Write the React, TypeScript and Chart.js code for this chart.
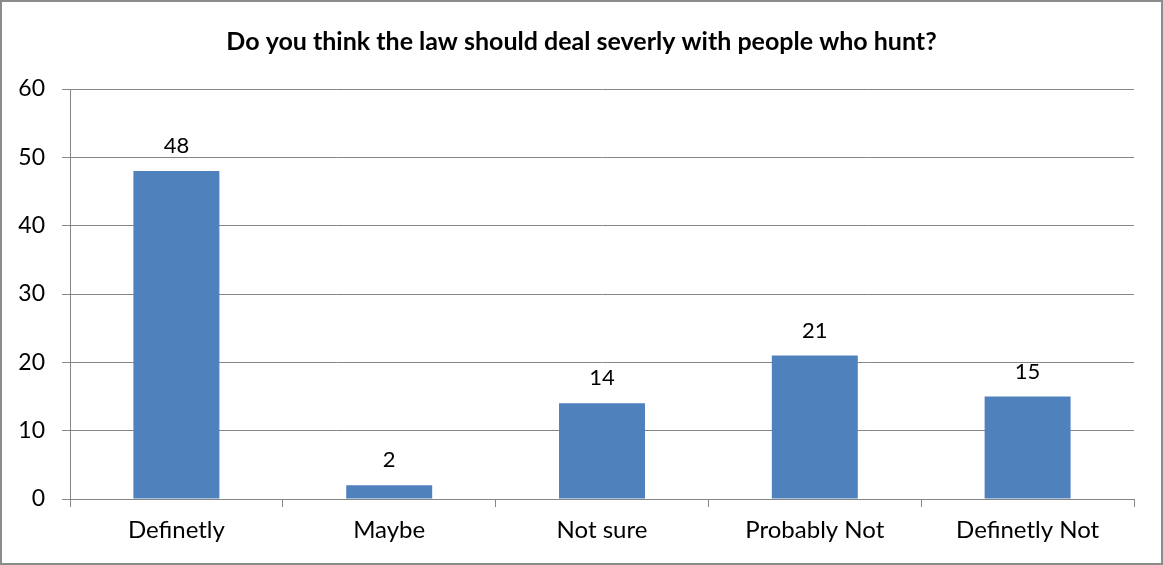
import React, { useEffect, useRef } from "react";
import { Chart, registerables } from "chart.js";

Chart.register(...registerables);

const categories = ["Definetly", "Maybe", "Not sure", "Probably Not", "Definetly Not"];
const values = [48, 2, 14, 21, 15];
const titleText = "Do you think the law should deal severly with people who hunt?";
const yTicks = { min: 0, max: 60, step: 10 };

const FONT = "Lato";
const GRID = "#868686";

const borderPlugin = {
  id: "outerBorder",
  afterDraw(chart: any) {
    const { ctx, width, height } = chart;
    ctx.save();
    ctx.strokeStyle = "#8c8c8c";
    ctx.lineWidth = 2;
    ctx.strokeRect(1, 1, width - 2, height - 2);
    ctx.fillStyle = "#000";
    ctx.font = `bold 25px ${FONT}`;
    ctx.textAlign = "center";
    ctx.textBaseline = "middle";
    ctx.fillText(titleText, width / 2, 42);
    ctx.restore();
  },
};

const labelPlugin = {
  id: "barLabels",
  afterDatasetsDraw(chart: any) {
    const { ctx } = chart;
    const meta = chart.getDatasetMeta(0);
    ctx.save();
    ctx.fillStyle = "#000";
    ctx.font = `22px ${FONT}`;
    ctx.textAlign = "center";
    ctx.textBaseline = "middle";
    meta.data.forEach((bar: any, i: number) => {
      ctx.fillText(String(values[i]), bar.x, bar.y - 25);
    });
    ctx.restore();
  },
};

export default function App() {
  const ref = useRef<HTMLCanvasElement | null>(null);
  useEffect(() => {
    document.body.style.margin = "0";
    const chart = new Chart(ref.current!, {
      type: "bar",
      data: {
        labels: categories,
        datasets: [
          {
            data: values,
            backgroundColor: "#4F81BD",
            barPercentage: 0.404,
            categoryPercentage: 1,
          },
        ],
      },
      options: {
        animation: false,
        responsive: false,
        layout: { padding: { left: 0, right: 29, top: 89, bottom: 0 } },
        plugins: {
          legend: { display: false },
          tooltip: { enabled: false },
          title: { display: false },
        },
        scales: {
          x: {
            grid: {
              drawOnChartArea: false,
              drawTicks: true,
              tickLength: 8,
              color: GRID,
              offset: true,
            },
            border: { color: GRID, width: 1 },
            ticks: { color: "#000", font: { family: FONT, size: 24 }, padding: 9 },
            afterFit(scale: any) {
              scale.height = 66;
            },
          },
          y: {
            min: yTicks.min,
            max: yTicks.max,
            grid: { color: GRID, tickLength: 8, drawTicks: true },
            border: { color: GRID, width: 1 },
            ticks: {
              stepSize: yTicks.step,
              color: "#000",
              font: { family: FONT, size: 23 },
              padding: 17,
            },
            afterFit(scale: any) {
              scale.width = 70;
            },
          },
        },
      },
      plugins: [borderPlugin, labelPlugin],
    });
    return () => chart.destroy();
  }, []);
  return (
    <div style={{ width: 1163, height: 565 }}>
      <canvas ref={ref} width={1163} height={565} style={{ display: "block" }} />
    </div>
  );
}
